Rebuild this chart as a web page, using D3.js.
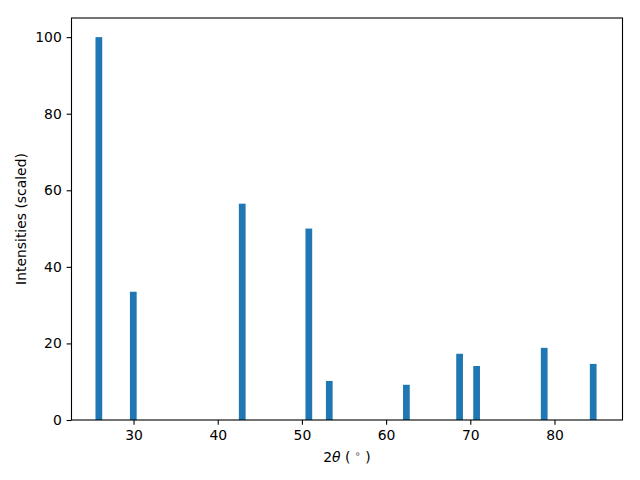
<!DOCTYPE html>
<html><head><meta charset="utf-8">
<script src="https://cdn.jsdelivr.net/npm/d3@7"></script>
<style>body{margin:0;background:#fff}svg{display:block}text{font-family:"DejaVu Sans",sans-serif}</style>
</head><body>
<svg id="c" width="640" height="480"></svg>
<script>
const positions = [25.88, 29.97, 42.91, 50.82, 53.25, 62.41, 68.73, 70.75, 78.78, 84.6];
const intensities = [100, 33.5, 56.5, 50.0, 10.2, 9.2, 17.3, 14.1, 18.85, 14.65];
const xTicks = [30, 40, 50, 60, 70, 80];
const yTicks = [0, 20, 40, 60, 80, 100];
const xDomain = [22.63, 88.08];
const yDomain = [0, 105];
const barWidth = 0.8;

const svg = d3.select("#c");
const L = 71.5, R = 622.5, T = 18, B = 420;
const x = d3.scaleLinear().domain(xDomain).range([L, R]);
const y = d3.scaleLinear().domain(yDomain).range([B, T]);

svg.append("g").selectAll("rect").data(positions).join("rect")
  .attr("x", (d) => x(d - barWidth/2))
  .attr("width", (d) => x(d + barWidth/2) - x(d - barWidth/2))
  .attr("y", (d, i) => y(intensities[i]))
  .attr("height", (d, i) => y(0) - y(intensities[i]))
  .attr("fill", "#1f77b4");

const xAxis = svg.append("g").attr("transform", `translate(0,${B})`)
  .call(d3.axisBottom(x).tickValues(xTicks).tickSize(4.86).tickPadding(4.9).tickFormat(d3.format("d")));
const yAxis = svg.append("g").attr("transform", `translate(${L},0)`)
  .call(d3.axisLeft(y).tickValues(yTicks).tickSize(4.86).tickPadding(4.9).tickFormat(d3.format("d")));
[xAxis, yAxis].forEach(g => {
  g.select(".domain").remove();
  g.selectAll("text").attr("font-size", "13.9px").attr("font-family", "DejaVu Sans").attr("fill", "#000");
  g.selectAll("line").attr("stroke", "#000").attr("stroke-width", 1.1);
});

svg.append("rect").attr("x", L).attr("y", T).attr("width", R - L).attr("height", B - T)
  .attr("fill", "none").attr("stroke", "#000").attr("stroke-width", 1.1);

const xl = svg.append("text").attr("x", (L + R) / 2).attr("y", 462).attr("text-anchor", "middle")
  .attr("font-size", "13.9px").attr("fill", "#000").attr("xml:space", "preserve");
xl.append("tspan").text("2");
xl.append("tspan").attr("font-style", "italic").text("θ");
xl.append("tspan").text(" ( ");
xl.append("tspan").attr("font-size", "9.7px").attr("dy", "-5").attr("fill", "#333").text("∘");
xl.append("tspan").attr("dy", "5").text(" )");

svg.append("text").attr("transform", `translate(26,${(T + B) / 2}) rotate(-90)`)
  .attr("text-anchor", "middle").attr("font-size", "13.9px").attr("fill", "#000")
  .text("Intensities (scaled)");
</script>
</body></html>
